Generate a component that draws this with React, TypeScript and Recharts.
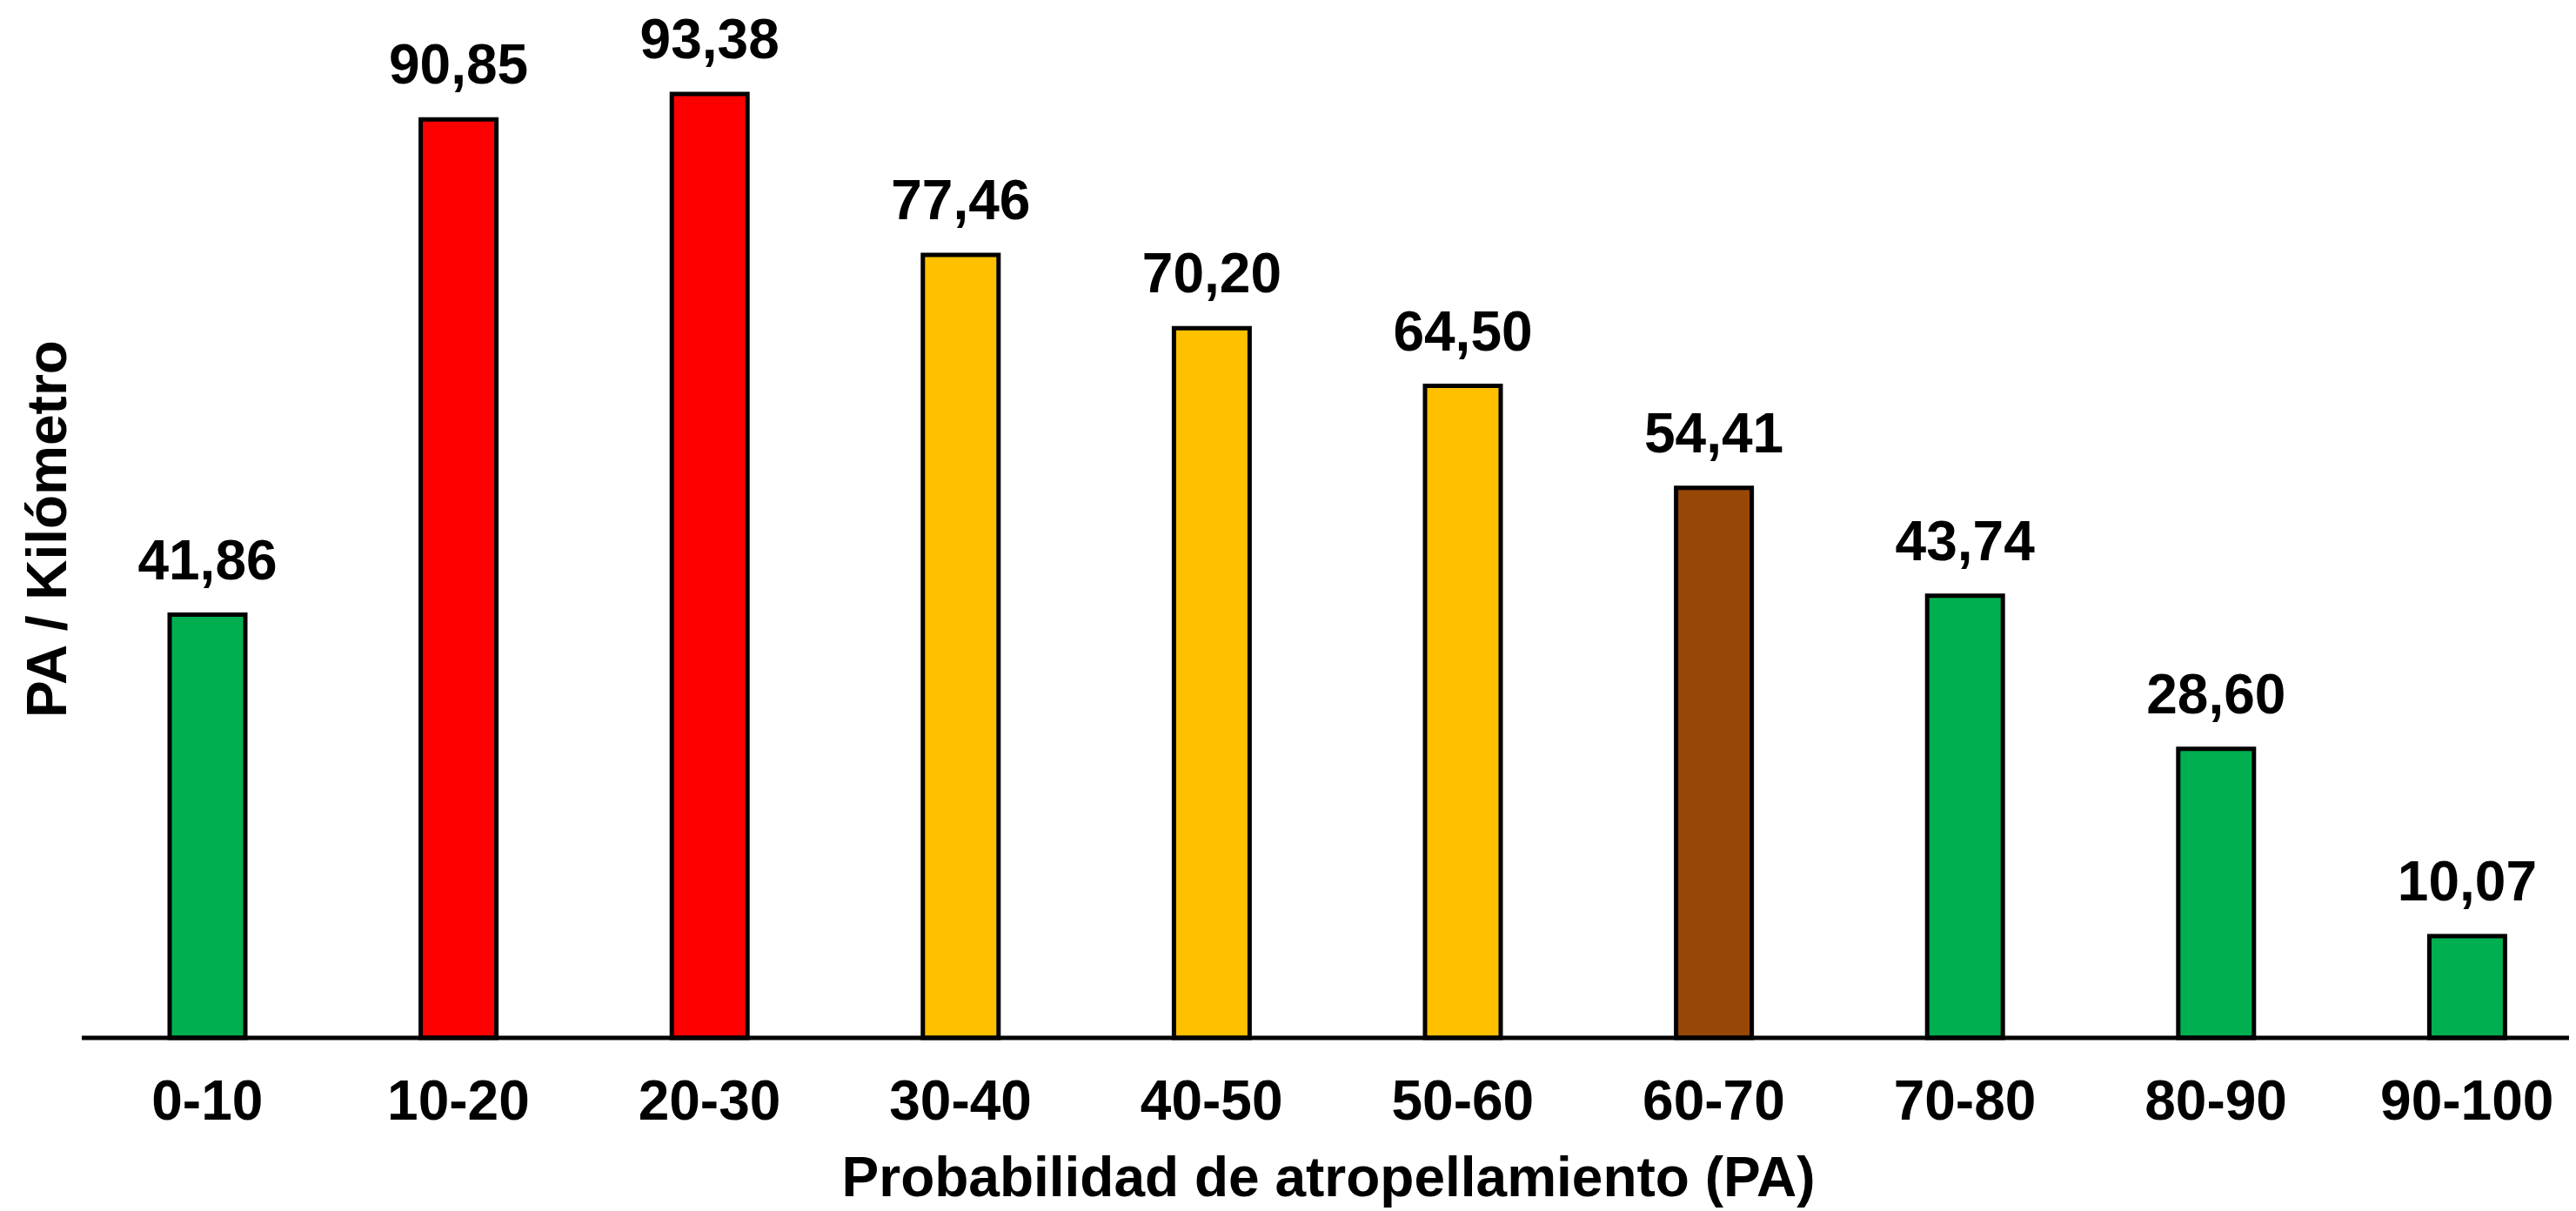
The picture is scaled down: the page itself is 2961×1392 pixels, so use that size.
import React from 'react';
import { BarChart, Bar, XAxis, YAxis, Cell, LabelList } from 'recharts';

const categories = ['0-10', '10-20', '20-30', '30-40', '40-50', '50-60', '60-70', '70-80', '80-90', '90-100'];
const values = [41.86, 90.85, 93.38, 77.46, 70.2, 64.5, 54.41, 43.74, 28.6, 10.07];
const colors = ['#00B050', '#FF0000', '#FF0000', '#FFC000', '#FFC000', '#FFC000', '#974706', '#00B050', '#00B050', '#00B050'];

const xTitle = 'Probabilidad de atropellamiento (PA)';
const yTitle = 'PA / Kilómetro';

const data = categories.map((c, i) => ({ cat: c, value: values[i] }));

const FONT = '"Liberation Sans", Arial, sans-serif';
const PLOT_TOP = 23;

const fmt = (v: any) => Number(v).toFixed(2).replace('.', ',');

const Titles = (props: any) => {
  const vb = props.viewBox || {};
  const plotMidY = (PLOT_TOP + vb.y) / 2;
  return (
    <g>
      <text
        x={vb.x + vb.width / 2 - 10}
        y={vb.y + 182}
        textAnchor="middle"
        fill="#000"
        fontSize={64}
        fontWeight="bold"
        fontFamily={FONT}
      >
        {xTitle}
      </text>
      <text
        transform={`translate(68, ${plotMidY - 4}) rotate(-90)`}
        textAnchor="middle"
        fill="#000"
        fontSize={64}
        fontWeight="bold"
        fontFamily={FONT}
      >
        {yTitle}
      </text>
    </g>
  );
};

export default function App() {
  return (
    <div style={{ width: 2953, height: 1384 }}>
      <BarChart
        width={2953}
        height={1384}
        data={data}
        margin={{ top: PLOT_TOP, right: -19, bottom: 9, left: 86 }}
        style={{ fontFamily: FONT }}
      >
        <XAxis
          dataKey="cat"
          height={190}
          axisLine={{ stroke: '#000', strokeWidth: 5 }}
          tickLine={false}
          tickSize={0}
          tickMargin={49}
          interval={0}
          tick={{ fill: '#000', fontSize: 64, fontWeight: 'bold', fontFamily: FONT }}
          label={{ content: (p: any) => <Titles {...p} /> }}
        />
        <YAxis width={0} domain={[0, 100]} hide />
        <Bar dataKey="value" barSize={87} stroke="#000" strokeWidth={5} isAnimationActive={false}>
          {data.map((d, i) => (
            <Cell key={d.cat} fill={colors[i]} />
          ))}
          <LabelList
            dataKey="value"
            position="top"
            offset={41}
            formatter={fmt}
            fill="#000"
            fontSize={64}
            fontWeight="bold"
            fontFamily={FONT}
            isAnimationActive={false}
          />
        </Bar>
      </BarChart>
    </div>
  );
}
